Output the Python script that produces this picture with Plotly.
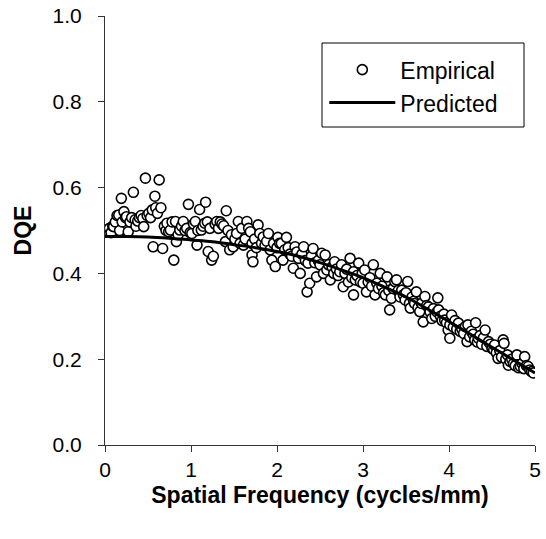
import plotly.graph_objects as go

# Empirical DQE points
emp_x = [0.02,0.05,0.07,0.09,0.10,0.12,0.14,0.16,0.17,0.19,0.20,0.22,0.24,0.25,0.27,0.29,0.31,0.33,0.35,0.36,0.38,0.40,0.42,0.44,0.45,0.47,0.49,0.51,0.53,0.55,0.56,0.58,0.59,0.61,0.63,0.65,0.67,0.69,0.71,0.72,0.74,0.76,0.78,0.80,
         0.82,0.83,0.85,0.87,0.89,0.91,0.93,0.95,0.97,0.99,1.01,1.03,1.05,1.07,1.08,1.10,1.12,1.14,1.16,1.17,1.19,1.20,1.22,1.24,1.26,1.28,1.30,1.32,1.34,1.36,1.38,1.40,1.41,1.43,1.45,1.47,1.49,1.51,1.53,1.55,1.57,1.59,1.61,1.63,1.65,
         1.67,1.69,1.71,1.71,1.72,1.74,1.76,1.78,1.80,1.82,1.84,1.86,1.88,1.90,1.92,1.94,1.96,1.98,2.00,2.01,2.03,2.05,2.07,2.09,2.11,2.13,2.15,2.17,2.19,2.21,2.23,2.25,2.27,2.29,2.31,2.33,2.35,2.36,2.38,2.40,2.42,2.44,2.46,2.48,2.50,2.52,2.54,2.56,
         2.58,2.60,2.62,2.64,2.66,2.67,2.69,2.71,2.73,2.75,2.77,2.79,2.81,2.83,2.85,2.87,2.89,2.89,2.91,2.93,2.95,2.97,2.99,3.00,3.02,3.04,3.06,3.08,3.10,3.12,3.14,3.16,3.18,3.20,3.22,3.24,3.26,3.28,3.30,3.31,3.33,3.35,3.37,3.39,
         3.41,3.43,3.45,3.47,3.49,3.50,3.52,3.54,3.55,3.57,3.59,3.60,3.62,3.64,3.66,3.68,3.70,3.72,3.74,3.76,3.78,3.80,3.82,3.84,3.86,3.87,3.88,3.90,3.92,3.94,3.95,3.97,3.99,4.01,4.01,4.03,4.05,4.07,4.09,4.11,4.13,4.15,4.17,4.19,4.21,4.22,4.24,4.26,4.28,
         4.30,4.31,4.33,4.34,4.36,4.38,4.40,4.42,4.44,4.46,4.48,4.50,4.52,4.53,4.55,4.57,4.59,4.61,4.63,4.64,4.66,4.68,4.69,4.71,4.73,4.75,4.77,4.79,4.81,4.83,4.85,4.87,4.88,4.90,4.92,4.94,4.96,4.98]
emp_y = [0.500,0.505,0.495,0.510,0.509,0.520,0.535,0.536,0.500,0.575,0.520,0.544,0.530,0.532,0.497,0.520,0.530,0.589,0.525,0.510,0.522,0.530,0.535,0.528,0.509,0.622,0.535,0.540,0.530,0.548,0.462,0.580,0.553,0.540,0.618,0.553,0.458,0.510,0.500,0.517,0.497,0.501,0.520,0.431,
         0.521,0.474,0.490,0.501,0.510,0.521,0.500,0.505,0.561,0.495,0.493,0.515,0.521,0.466,0.500,0.549,0.501,0.510,0.517,0.566,0.520,0.451,0.505,0.431,0.440,0.515,0.521,0.505,0.520,0.515,0.511,0.474,0.546,0.500,0.455,0.490,0.462,0.480,0.493,0.521,0.470,0.505,0.466,0.480,0.521,
         0.505,0.497,0.470,0.443,0.427,0.480,0.460,0.513,0.493,0.470,0.485,0.465,0.475,0.493,0.455,0.431,0.470,0.416,0.460,0.484,0.470,0.470,0.431,0.455,0.484,0.460,0.445,0.440,0.412,0.462,0.450,0.435,0.400,0.445,0.462,0.430,0.357,0.424,0.377,0.440,0.458,0.425,0.392,0.430,0.420,0.447,0.400,0.443,
         0.408,0.420,0.385,0.415,0.400,0.427,0.410,0.395,0.404,0.420,0.369,0.400,0.410,0.380,0.435,0.390,0.404,0.350,0.385,0.395,0.424,0.380,0.400,0.377,0.408,0.357,0.380,0.390,0.370,0.420,0.350,0.377,0.365,0.400,0.370,0.355,0.350,0.392,0.360,0.315,0.342,0.365,0.381,0.385,
         0.360,0.345,0.361,0.350,0.338,0.355,0.381,0.330,0.319,0.345,0.335,0.330,0.357,0.320,0.311,0.330,0.287,0.346,0.325,0.322,0.310,0.295,0.318,0.300,0.310,0.343,0.315,0.300,0.290,0.305,0.291,0.285,0.268,0.249,0.280,0.303,0.275,0.290,0.270,0.284,0.265,0.270,0.260,0.276,0.241,0.280,0.252,0.265,0.258,
         0.245,0.285,0.240,0.249,0.255,0.235,0.250,0.268,0.230,0.241,0.235,0.225,0.222,0.233,0.215,0.202,0.220,0.205,0.245,0.237,0.200,0.210,0.186,0.195,0.200,0.190,0.185,0.210,0.180,0.183,0.190,0.178,0.206,0.185,0.183,0.175,0.171,0.168]

# Predicted DQE curve
pred_x = [0.0,0.25,0.5,0.75,1.0,1.25,1.5,1.75,2.0,2.25,2.5,2.75,3.0,3.25,3.5,3.75,4.0,4.25,4.5,4.75,5.0]
pred_y = [0.486,0.486,0.485,0.482,0.478,0.474,0.467,0.460,0.451,0.440,0.425,0.408,0.390,0.368,0.345,0.317,0.288,0.258,0.228,0.198,0.168]

x_ticks = [0, 1, 2, 3, 4, 5]
y_ticks = [0.0, 0.2, 0.4, 0.6, 0.8, 1.0]
y_tick_text = ["0.0", "0.2", "0.4", "0.6", "0.8", "1.0"]

FONT = "Liberation Sans, Arial, sans-serif"

fig = go.Figure()
fig.add_trace(go.Scatter(
    x=emp_x, y=emp_y, mode="markers", name="Empirical",
    marker=dict(symbol="circle", size=10, color="white",
                line=dict(color="black", width=1.6)),
))
fig.add_trace(go.Scatter(
    x=pred_x, y=pred_y, mode="lines", name="Predicted",
    line=dict(color="black", width=3, shape="spline"),
))

fig.update_layout(
    width=546, height=539,
    margin=dict(l=105, r=11, t=16, b=94),
    paper_bgcolor="white", plot_bgcolor="white",
    font=dict(family=FONT, size=21, color="black"),
    showlegend=True,
    legend=dict(
        x=0.51, y=0.925, xanchor="left", yanchor="top",
        bgcolor="rgba(0,0,0,0)", borderwidth=0,
        font=dict(family=FONT, size=23, color="black"),
        itemwidth=66, tracegroupgap=0,
    ),
    shapes=[dict(type="rect", xref="paper", yref="paper",
                 x0=(322 - 105) / 430, x1=(524 - 105) / 430,
                 y0=(445 - 127) / 429, y1=(445 - 43) / 429,
                 line=dict(color="black", width=1), fillcolor="rgba(0,0,0,0)")],
)
fig.update_xaxes(
    range=[0, 5], tickvals=x_ticks, ticktext=[str(v) for v in x_ticks],
    showgrid=False, zeroline=False, showline=True, linecolor="#333", linewidth=1,
    ticks="outside", ticklen=6, tickcolor="#333", automargin=False,
    title=dict(text="<b>Spatial Frequency (cycles/mm)</b>", standoff=6,
               font=dict(family=FONT, size=23)),
)
fig.update_yaxes(
    range=[0, 1], tickvals=y_ticks, ticktext=y_tick_text,
    showgrid=False, zeroline=False, showline=True, linecolor="#333", linewidth=1,
    ticks="outside", ticklen=6, tickcolor="#333", ticklabelstandoff=12, automargin=False,
    title=dict(text="<b>DQE</b>", standoff=14, font=dict(family=FONT, size=23)),
)

fig.write_html("out.html")
